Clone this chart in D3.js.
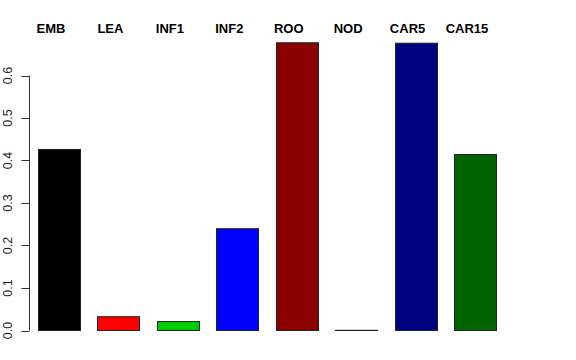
<!DOCTYPE html>
<html>
<head>
<meta charset="utf-8">
<script src="https://cdn.jsdelivr.net/npm/d3@7"></script>
<style>
  body { margin: 0; background: #fff; }
  svg { display: block; font-family: 'Liberation Sans', Arial, sans-serif; }
</style>
</head>
<body>
<div id="chart"></div>
<script>
const categories = ['EMB', 'LEA', 'INF1', 'INF2', 'ROO', 'NOD', 'CAR5', 'CAR15']
const values = [0.426, 0.0325, 0.021, 0.2395, 0.677, 0.0005, 0.676, 0.414]
const colors = ['#000000', '#ff0000', '#00cd00', '#0000ff', '#8b0000', '#555555', '#000080', '#006400']
const yTicks = [0, 0.1, 0.2, 0.3, 0.4, 0.5, 0.6]

const width = 576
const height = 360

let svg = d3.select('#chart')
  .append('svg')
  .attr('width', width)
  .attr('height', height)

let x = d3.scaleBand()
  .domain(categories)
  .range([38, 496])
  .paddingInner(0.293)
  .paddingOuter(0)

let y = d3.scaleLinear()
  .domain([0, 0.6])
  .range([330.5, 75.5])

// bars
svg.selectAll('.bar')
  .data(categories)
  .enter()
  .append('rect')
  .attr('class', 'bar')
  .attr('x', function(d) { return Math.round(x(d)) + 0.5 })
  .attr('y', function(d, i) { return y(values[i]) })
  .attr('width', x.bandwidth())
  .attr('height', function(d, i) { return y(0) - y(values[i]) })
  .attr('fill', function(d, i) { return colors[i] })
  .attr('stroke', '#222')
  .attr('stroke-width', 1)

// category labels along the top
svg.selectAll('.cat')
  .data(categories)
  .enter()
  .append('text')
  .attr('class', 'cat')
  .attr('x', function(d) { return x(d) + x.bandwidth() / 2 - 8 })
  .attr('y', 33)
  .attr('text-anchor', 'middle')
  .attr('font-size', 13)
  .attr('font-weight', 'bold')
  .text(function(d) { return d })

// y axis, R style
let axis = svg.append('g')
  .attr('transform', 'translate(29.5,0)')

axis.append('line')
  .attr('y1', y(0))
  .attr('y2', y(0.6))
  .attr('stroke', '#333')

axis.selectAll('.tick')
  .data(yTicks)
  .enter()
  .append('line')
  .attr('x1', -8)
  .attr('x2', 0)
  .attr('y1', function(d) { return Math.round(y(d)) + 0.5 })
  .attr('y2', function(d) { return Math.round(y(d)) + 0.5 })
  .attr('stroke', '#333')

svg.selectAll('.ylab')
  .data(yTicks)
  .enter()
  .append('text')
  .attr('class', 'ylab')
  .attr('transform', function(d) { return `translate(11.5, ${y(d)}) rotate(-90)` })
  .attr('text-anchor', 'middle')
  .attr('font-size', 12.5)
  .attr('fill', '#222')
  .text(function(d) { return d.toFixed(1) })
</script>
</body>
</html>
